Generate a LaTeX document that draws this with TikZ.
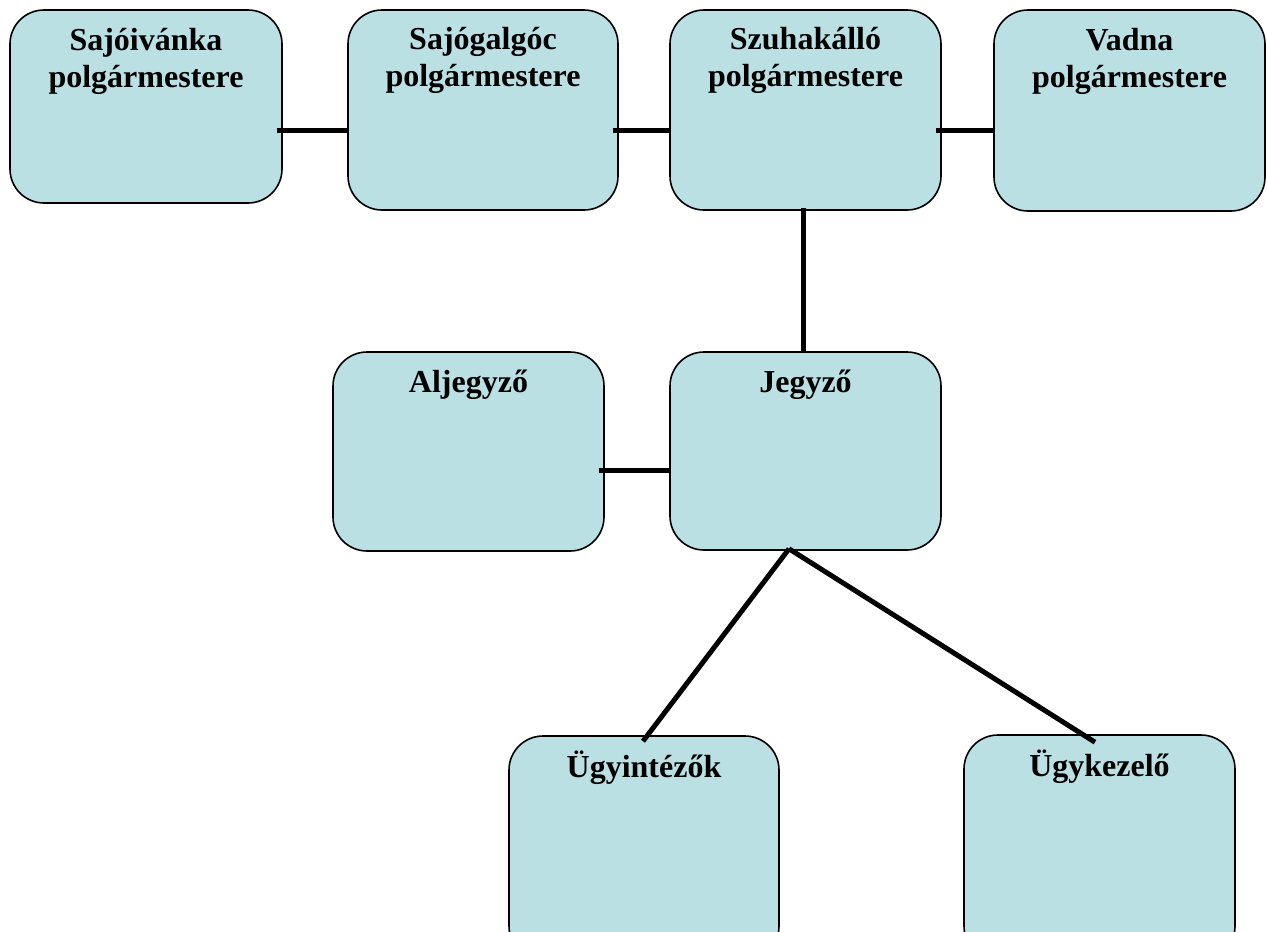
\documentclass[tikz,border=0pt]{standalone}
\usepackage{fontspec}
\setmainfont{Liberation Serif}
\usetikzlibrary{calc}
\definecolor{boxfill}{HTML}{BBE0E3}
\tikzset{
  box/.style={draw=black, line width=1.6pt, fill=boxfill, rounded corners=34pt, inner sep=0pt},
  lbl/.style={anchor=base, inner sep=0pt, align=center, font=\fontsize{32}{37}\selectfont\bfseries},
  conn/.style={line width=5pt}
}
\begin{document}
\begin{tikzpicture}[x=1pt, y=-1pt]
\useasboundingbox (0,0) rectangle (1267,932);
\clip (0,0) rectangle (1267,932);
% boxes
\node[box, minimum width=272pt, minimum height=193pt] (b1) at (146,106.5) {};
\node[box, minimum width=270pt, minimum height=200pt] (b2) at (483,110) {};
\node[box, minimum width=271pt, minimum height=200pt] (b3) at (805.5,110) {};
\node[box, minimum width=271pt, minimum height=201pt] (b4) at (1129.5,110.5) {};
\node[box, minimum width=271pt, minimum height=199pt] (b5) at (468.5,451.5) {};
\node[box, minimum width=271pt, minimum height=198pt] (b6) at (805.5,451) {};
\node[box, minimum width=270pt, minimum height=224pt] (b7) at (644,848) {};
\node[box, minimum width=271pt, minimum height=225pt] (b8) at (1099.5,847.5) {};
% labels
\node[lbl] (t1) at ($(b1.north)+(0,78)$) {Sajóivánka\\polgármestere};
\node[lbl] (t2) at ($(b2.north)+(0,77)$) {Sajógalgóc\\polgármestere};
\node[lbl] (t3) at ($(b3.north)+(0,77)$) {Szuhakálló\\polgármestere};
\node[lbl] (t4) at ($(b4.north)+(0,78)$) {Vadna\\polgármestere};
\node[lbl] (t5) at ($(b5.north)+(0,41)$) {Aljegyző};
\node[lbl] (t6) at ($(b6.north)+(0,41)$) {Jegyző};
\node[lbl] (t7) at ($(b7.north)+(0,42)$) {Ügyintézők};
\node[lbl] (t8) at ($(b8.north)+(0,42)$) {Ügykezelő};
% connectors
\draw[conn] ($(b1.east |- 0,130)+(-6,0)$) -- (b2.west |- 0,130);
\draw[conn] ($(b2.east |- 0,130)+(-6,0)$) -- (b3.west |- 0,130);
\draw[conn] ($(b3.east |- 0,130)+(-6,0)$) -- (b4.west |- 0,130);
\draw[conn] ($(b3.south -| 803,0)+(0,-3)$) -- (b6.north -| 803,0);
\draw[conn] ($(b5.east |- 0,470)+(-6,0)$) -- (b6.west |- 0,470);
\draw[conn] ($(b6.south -| 789,0)+(0,-2)$) -- ($(b7.north -| 643,0)+(0,6)$);
\draw[conn] ($(b6.south -| 789,0)+(0,-2)$) -- ($(b8.north -| 1095,0)+(0,8)$);
\end{tikzpicture}
\end{document}
